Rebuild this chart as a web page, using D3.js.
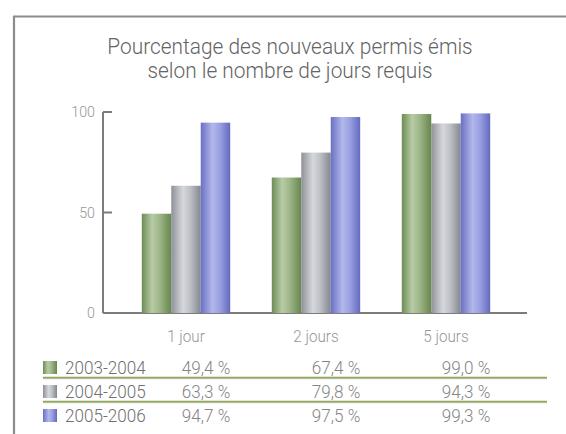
<!DOCTYPE html>
<html>
<head>
<meta charset="utf-8">
<script src="https://cdn.jsdelivr.net/npm/d3@7"></script>
<style>
  html, body { margin: 0; padding: 0; background: #fff; }
  svg { display: block; }
  text { font-family: Roboto, "Liberation Sans", Arial, sans-serif; font-weight: 300; }
</style>
</head>
<body>
<svg id="chart" width="566" height="434"></svg>
<script>
// ---- data ----
const titleLines = ["Pourcentage des nouveaux permis émis", "selon le nombre de jours requis"];
const categories = ["1 jour", "2 jours", "5 jours"];
const seriesNames = ["2003-2004", "2004-2005", "2005-2006"];
const values2003_2004 = [49.4, 67.4, 99.0];
const values2004_2005 = [63.3, 79.8, 94.3];
const values2005_2006 = [94.7, 97.5, 99.3];
const yTicks = [0, 50, 100];

const seriesValues = [values2003_2004, values2004_2005, values2005_2006];

// ---- styles ----
const gradients = [
  { id: "gGreen", stops: [[0, "#6c8c55"], [0.35, "#b8cba5"], [0.6, "#9fb78a"], [1, "#66864c"]] },
  { id: "gGray",  stops: [[0, "#8e9198"], [0.4, "#d6d8dc"], [0.65, "#bcbfc5"], [1, "#83878f"]] },
  { id: "gBlue",  stops: [[0, "#6970c2"], [0.4, "#b2b7ec"], [0.65, "#9aa0e2"], [1, "#636abd"]] }
];
const SX = 0.95; // condensed text

const svg = d3.select("#chart");
const defs = svg.append("defs");
gradients.forEach(g => {
  const lg = defs.append("linearGradient").attr("id", g.id)
    .attr("x1", "0%").attr("x2", "100%").attr("y1", "0%").attr("y2", "0%");
  g.stops.forEach(s => lg.append("stop").attr("offset", s[0]).attr("stop-color", s[1]));
});

function condText(parent, x, y, str, opts) {
  const g = parent.append("g").attr("transform", `translate(${x},${y})`);
  const t = g.append("text").attr("transform", `scale(${SX},1)`)
    .attr("text-anchor", opts.anchor || "start")
    .attr("font-size", opts.size)
    .attr("fill", opts.fill)
    .text(str);
  if (opts.dy) t.attr("dy", opts.dy);
  return t;
}

// ---- frame ----
svg.append("line").attr("x1", 14).attr("x2", 14).attr("y1", 16).attr("y2", 434)
  .attr("stroke", "#8c8c8c").attr("stroke-width", 2.2);
svg.append("line").attr("x1", 13).attr("x2", 566).attr("y1", 16.5).attr("y2", 16.5)
  .attr("stroke", "#8c8c8c").attr("stroke-width", 2);

// ---- title ----
titleLines.forEach((l, i) => {
  condText(svg, 290, 54 + i * 24, l, { anchor: "middle", size: 22, fill: "#646464" });
});

// ---- scales ----
const x0 = d3.scaleBand().domain(categories).range([121, 511]).paddingInner(0.32).paddingOuter(0.16);
const x1 = d3.scaleBand().domain(seriesNames).range([0, x0.bandwidth()]).padding(0);
const y = d3.scaleLinear().domain([0, 100]).range([313, 112]);

// ---- axes ----
const axisG = svg.append("g");
axisG.append("line").attr("x1", 103).attr("x2", 103).attr("y1", y(100)).attr("y2", y(0))
  .attr("stroke", "#7c7c7c").attr("stroke-width", 2);
axisG.append("line").attr("x1", 103).attr("x2", 527).attr("y1", y(0)).attr("y2", y(0))
  .attr("stroke", "#7c7c7c").attr("stroke-width", 2);
yTicks.forEach(t => {
  axisG.append("line").attr("x1", 103).attr("x2", 112).attr("y1", y(t)).attr("y2", y(t))
    .attr("stroke", "#7c7c7c").attr("stroke-width", 2);
  condText(axisG, 95, y(t), String(t), { anchor: "end", size: 15, fill: "#969696", dy: "0.36em" });
});

// ---- bars ----
const barsG = svg.append("g");
categories.forEach((c, ci) => {
  seriesNames.forEach((s, si) => {
    const v = seriesValues[si][ci];
    barsG.append("rect")
      .attr("x", x0(c) + x1(s))
      .attr("width", x1.bandwidth())
      .attr("y", y(v))
      .attr("height", y(0) - y(v))
      .attr("fill", `url(#${gradients[si].id})`);
  });
});

// ---- category labels ----
categories.forEach(c => {
  condText(svg, x0(c) + x0.bandwidth() / 2, 341.5, c, { anchor: "middle", size: 16, fill: "#969696" });
});

// ---- table ----
const fmt = d3.formatLocale({ decimal: ",", thousands: " ", grouping: [3], currency: ["", ""] }).format(".1f");
const rowY = d3.scaleLinear().domain([0, 1]).range([374, 398]);
const tableG = svg.append("g");
[0, 1].forEach(i => {
  const ly = rowY(i) + 3.5;
  tableG.append("line").attr("x1", 43).attr("x2", 547).attr("y1", ly + 1.2).attr("y2", ly + 1.2)
    .attr("stroke", "#b8b8a8").attr("stroke-width", 1);
  tableG.append("line").attr("x1", 43).attr("x2", 547).attr("y1", ly).attr("y2", ly)
    .attr("stroke", "#8fa656").attr("stroke-width", 1.6);
});
seriesNames.forEach((s, si) => {
  const by = rowY(si);
  tableG.append("rect").attr("x", 43).attr("y", by - 13).attr("width", 14).attr("height", 13)
    .attr("fill", `url(#${gradients[si].id})`);
  condText(tableG, 65, by, s, { anchor: "start", size: 18, fill: "#707070" });
  categories.forEach((c, ci) => {
    condText(tableG, x0(c) + x0.bandwidth() / 2 + 20, by, fmt(seriesValues[si][ci]) + " %",
      { anchor: "middle", size: 18, fill: "#858585" });
  });
});
</script>
</body>
</html>
